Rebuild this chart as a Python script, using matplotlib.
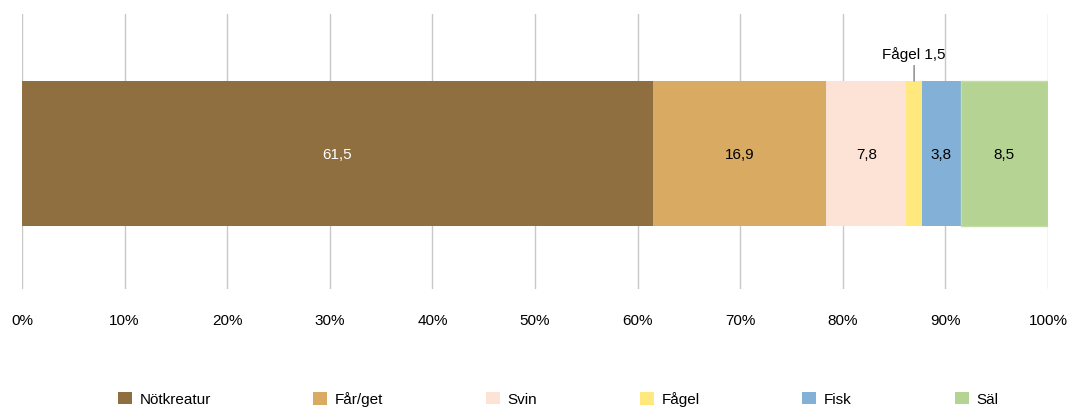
import matplotlib
matplotlib.use("Agg")
import matplotlib.pyplot as plt
from matplotlib.patches import Patch

categories = ["Nötkreatur", "Får/get", "Svin", "Fågel", "Fisk", "Säl"]
values = [61.5, 16.9, 7.8, 1.5, 3.8, 8.5]
colors = ["#8F6E3F", "#D9AA62", "#FDE3D6", "#FFE97F", "#82B0D6", "#B5D493"]
edge_colors = ["none", "none", "none", "none", "none", "#C3DCA8"]
label_colors = ["white", "black", "black", None, "black", "black"]
xticks = list(range(0, 101, 10))
xticklabels = [f"{t}%" for t in xticks]

plt.rcParams["font.family"] = ["Liberation Sans", "DejaVu Sans"]

fig = plt.figure(figsize=(10.7, 4.1), dpi=100)
ax = fig.add_axes([22/1070, 1-290/410, 1026/1070, 275/410])

left = 0
centers = []
for cat, v, c, ec, lc in zip(categories, values, colors, edge_colors, label_colors):
    ax.barh(0, v, left=left, height=0.527, color=c, edgecolor=ec,
            linewidth=1 if ec != "none" else 0, zorder=2)
    centers.append(left + v/2)
    if lc is not None:
        ax.text(left + v/2, 0, f"{v:.1f}".replace(".", ","), ha="center", va="center",
                color=lc, fontsize=11, zorder=3)
    left += v

# Fågel callout
fi = categories.index("Fågel")
ax.annotate(f"Fågel {values[fi]:.1f}".replace(".", ","), xy=(centers[fi], 0.2635),
            xytext=(centers[fi], 0.335), ha="center", va="bottom", fontsize=11,
            arrowprops=dict(arrowstyle="-", color="#808080", lw=1, shrinkA=1, shrinkB=0))

ax.set_xlim(0, 100)
ax.set_ylim(-0.4927, 0.5073)
ax.set_xticks(xticks)
ax.set_xticklabels(xticklabels, fontsize=11)
ax.set_yticks([])
ax.grid(axis="x", color="#C8C8C8", lw=1, zorder=0)
ax.tick_params(axis="x", length=0, pad=17)
for s in ax.spines.values():
    s.set_visible(False)

leg_x = [118, 313, 486, 640, 802, 955]
for cat, c, x in zip(categories, colors, leg_x):
    fig.legend(handles=[Patch(facecolor=c, edgecolor="none")], labels=[cat],
               loc="center left", bbox_to_anchor=(x/1070, 1-400/410),
               frameon=False, fontsize=11, handlelength=0.9, handleheight=0.9,
               handletextpad=0.5, borderpad=0, borderaxespad=0)

fig.savefig("out.png", dpi=100)
